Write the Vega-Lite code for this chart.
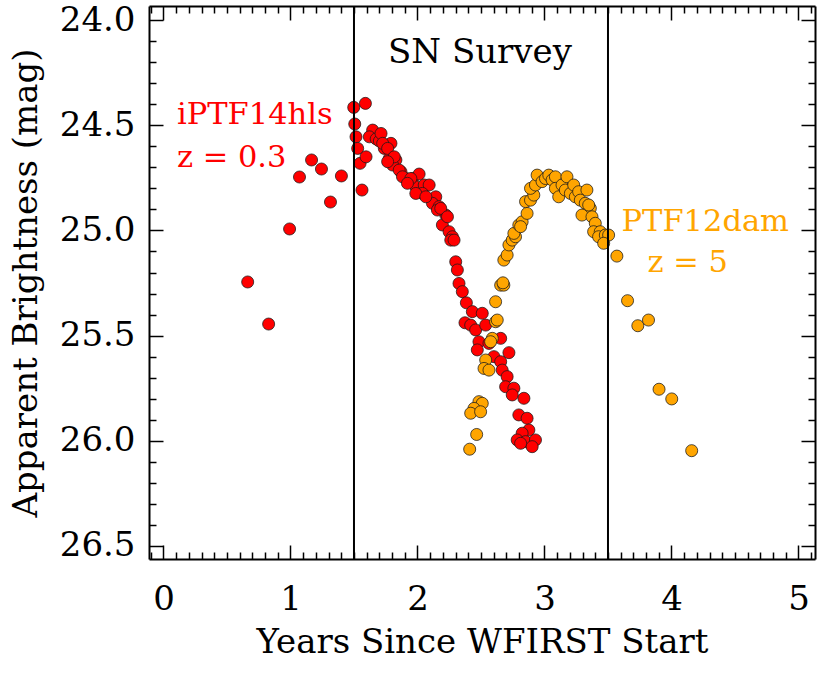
{
  "$schema": "https://vega.github.io/schema/vega-lite/v6.json",
  "width": 666,
  "height": 553,
  "autosize": {"type": "none"},
  "padding": {"left": 149, "top": 6, "right": 10, "bottom": 116},
  "background": "white",
  "datasets": {
    "iptf14hls": [
      {"t": 0.663, "mag": 25.245}, {"t": 0.828, "mag": 25.445}, {"t": 0.993, "mag": 24.993}, {"t": 1.071, "mag": 24.746},
      {"t": 1.166, "mag": 24.665}, {"t": 1.244, "mag": 24.708}, {"t": 1.315, "mag": 24.865}, {"t": 1.401, "mag": 24.741},
      {"t": 1.498, "mag": 24.415}, {"t": 1.590, "mag": 24.396}, {"t": 1.506, "mag": 24.494}, {"t": 1.516, "mag": 24.555},
      {"t": 1.529, "mag": 24.610}, {"t": 1.548, "mag": 24.681}, {"t": 1.563, "mag": 24.808}, {"t": 1.595, "mag": 24.650},
      {"t": 1.647, "mag": 24.523}, {"t": 1.621, "mag": 24.555}, {"t": 1.675, "mag": 24.565}, {"t": 1.700, "mag": 24.575},
      {"t": 1.713, "mag": 24.539}, {"t": 1.791, "mag": 24.586}, {"t": 1.739, "mag": 24.610}, {"t": 1.778, "mag": 24.658},
      {"t": 1.830, "mag": 24.665}, {"t": 1.804, "mag": 24.689}, {"t": 1.870, "mag": 24.721}, {"t": 1.909, "mag": 24.753},
      {"t": 1.961, "mag": 24.753}, {"t": 2.013, "mag": 24.732}, {"t": 1.987, "mag": 24.792}, {"t": 2.053, "mag": 24.784},
      {"t": 2.092, "mag": 24.784}, {"t": 2.039, "mag": 24.824}, {"t": 2.144, "mag": 24.840}, {"t": 2.118, "mag": 24.871},
      {"t": 2.170, "mag": 24.887}, {"t": 2.223, "mag": 24.927}, {"t": 2.196, "mag": 24.974}, {"t": 2.249, "mag": 25.006},
      {"t": 2.275, "mag": 25.030}, {"t": 2.262, "mag": 25.046}, {"t": 2.301, "mag": 25.149}, {"t": 2.314, "mag": 25.188},
      {"t": 1.726, "mag": 24.586}, {"t": 1.765, "mag": 24.610}, {"t": 1.817, "mag": 24.650}, {"t": 1.765, "mag": 24.673},
      {"t": 1.856, "mag": 24.713}, {"t": 1.882, "mag": 24.745}, {"t": 1.948, "mag": 24.753}, {"t": 1.921, "mag": 24.776},
      {"t": 1.987, "mag": 24.824}, {"t": 2.066, "mag": 24.840}, {"t": 2.157, "mag": 24.903}, {"t": 2.183, "mag": 24.895},
      {"t": 2.236, "mag": 24.935}, {"t": 2.288, "mag": 25.046},
      {"t": 2.327, "mag": 25.252}, {"t": 2.353, "mag": 25.291}, {"t": 2.385, "mag": 25.344}, {"t": 2.432, "mag": 25.386},
      {"t": 2.510, "mag": 25.394}, {"t": 2.374, "mag": 25.439}, {"t": 2.419, "mag": 25.450}, {"t": 2.458, "mag": 25.473},
      {"t": 2.537, "mag": 25.450}, {"t": 2.484, "mag": 25.529}, {"t": 2.471, "mag": 25.568}, {"t": 2.563, "mag": 25.537},
      {"t": 2.655, "mag": 25.513}, {"t": 2.602, "mag": 25.600}, {"t": 2.720, "mag": 25.581}, {"t": 2.655, "mag": 25.624},
      {"t": 2.667, "mag": 25.664}, {"t": 2.706, "mag": 25.695}, {"t": 2.694, "mag": 25.743}, {"t": 2.759, "mag": 25.750},
      {"t": 2.746, "mag": 25.782}, {"t": 2.838, "mag": 25.798}, {"t": 2.798, "mag": 25.877}, {"t": 2.863, "mag": 25.893},
      {"t": 2.877, "mag": 25.949}, {"t": 2.824, "mag": 25.964}, {"t": 2.785, "mag": 25.996}, {"t": 2.851, "mag": 26.004},
      {"t": 2.929, "mag": 25.996}, {"t": 2.903, "mag": 26.028}, {"t": 2.812, "mag": 26.012}
    ],
    "ptf12dam": [
      {"t": 2.655, "mag": 25.260}, {"t": 2.680, "mag": 25.260}, {"t": 2.615, "mag": 25.339}, {"t": 2.615, "mag": 25.434},
      {"t": 2.628, "mag": 25.426}, {"t": 2.589, "mag": 25.513}, {"t": 2.576, "mag": 25.529}, {"t": 2.537, "mag": 25.616},
      {"t": 2.524, "mag": 25.656}, {"t": 2.563, "mag": 25.664}, {"t": 2.484, "mag": 25.814}, {"t": 2.510, "mag": 25.822},
      {"t": 2.445, "mag": 25.846}, {"t": 2.419, "mag": 25.869}, {"t": 2.497, "mag": 25.862}, {"t": 2.466, "mag": 25.970},
      {"t": 2.411, "mag": 26.040},
      {"t": 2.673, "mag": 25.249}, {"t": 2.680, "mag": 25.141}, {"t": 2.706, "mag": 25.117}, {"t": 2.720, "mag": 25.069},
      {"t": 2.746, "mag": 25.046}, {"t": 2.772, "mag": 25.030}, {"t": 2.759, "mag": 25.014}, {"t": 2.798, "mag": 24.974},
      {"t": 2.824, "mag": 24.959}, {"t": 2.812, "mag": 24.982}, {"t": 2.863, "mag": 24.919}, {"t": 2.851, "mag": 24.863},
      {"t": 2.890, "mag": 24.856}, {"t": 2.916, "mag": 24.832}, {"t": 2.890, "mag": 24.800}, {"t": 2.929, "mag": 24.784},
      {"t": 2.942, "mag": 24.737}, {"t": 2.981, "mag": 24.768}, {"t": 3.008, "mag": 24.753}, {"t": 3.034, "mag": 24.737},
      {"t": 3.060, "mag": 24.760}, {"t": 3.086, "mag": 24.745}, {"t": 3.086, "mag": 24.800}, {"t": 3.112, "mag": 24.840},
      {"t": 3.138, "mag": 24.784}, {"t": 3.177, "mag": 24.745}, {"t": 3.164, "mag": 24.808}, {"t": 3.204, "mag": 24.824},
      {"t": 3.230, "mag": 24.784}, {"t": 3.243, "mag": 24.840}, {"t": 3.269, "mag": 24.816}, {"t": 3.334, "mag": 24.808},
      {"t": 3.282, "mag": 24.856}, {"t": 3.321, "mag": 24.871}, {"t": 3.361, "mag": 24.895}, {"t": 3.295, "mag": 24.927},
      {"t": 3.374, "mag": 24.935}, {"t": 3.400, "mag": 24.966}, {"t": 3.387, "mag": 25.006}, {"t": 3.439, "mag": 25.006},
      {"t": 3.426, "mag": 25.030}, {"t": 3.479, "mag": 25.022}, {"t": 3.505, "mag": 25.022}, {"t": 3.466, "mag": 25.061},
      {"t": 3.348, "mag": 24.879}, {"t": 3.570, "mag": 25.122}, {"t": 3.654, "mag": 25.334}, {"t": 3.735, "mag": 25.453},
      {"t": 3.819, "mag": 25.426}, {"t": 3.902, "mag": 25.755}, {"t": 4.002, "mag": 25.801}, {"t": 4.159, "mag": 26.047}
    ],
    "survey": [{"t": 1.5}, {"t": 3.5}],
    "survey_label": [{"t": 2.492, "mag": 24.204, "label": "SN Survey"}],
    "iptf_label": [
      {"t": 0.106, "mag": 24.494, "label": "iPTF14hls"},
      {"t": 0.106, "mag": 24.699, "label": "z = 0.3"}
    ],
    "ptf_label": [
      {"t": 3.607, "mag": 25.003, "label": "PTF12dam"},
      {"t": 3.811, "mag": 25.198, "label": "z = 5"}
    ]
  },
  "resolve": {"axis": {"x": "independent", "y": "independent"}},
  "layer": [
    {
      "data": {"name": "iptf14hls"},
      "mark": {"type": "point", "shape": "circle", "filled": true, "size": 145, "fill": "#ff0000", "stroke": "#1a1a1a", "strokeWidth": 0.9, "opacity": 1, "strokeOpacity": 0.85},
      "encoding": {
        "x": {"field": "t", "type": "quantitative",
              "scale": {"domain": [-0.114, 5.13], "nice": false, "zero": false},
              "axis": {"orient": "bottom", "values": [0, 1, 2, 3, 4, 5], "tickSize": -14, "labelPadding": 37, "format": "d",
                       "title": "Years Since WFIRST Start", "titlePadding": 9}},
        "y": {"field": "mag", "type": "quantitative",
              "scale": {"domain": [23.933, 26.562], "nice": false, "zero": false, "reverse": true},
              "axis": {"orient": "left", "values": [24.0, 24.5, 25.0, 25.5, 26.0, 26.5], "tickSize": -14, "labelPadding": 28, "format": ".1f",
                       "title": "Apparent Brightness (mag)", "titlePadding": 16}}
      }
    },
    {
      "data": {"name": "ptf12dam"},
      "mark": {"type": "point", "shape": "circle", "filled": true, "size": 145, "fill": "#ffa500", "stroke": "#1a1a1a", "strokeWidth": 0.9, "opacity": 1, "strokeOpacity": 0.85},
      "encoding": {
        "x": {"field": "t", "type": "quantitative",
              "axis": {"orient": "bottom", "values": [-0.1, 0.1, 0.2, 0.3, 0.4, 0.5, 0.6, 0.7, 0.8, 0.9, 1.1, 1.2, 1.3, 1.4, 1.5, 1.6, 1.7, 1.8, 1.9, 2.1, 2.2, 2.3, 2.4, 2.5, 2.6, 2.7, 2.8, 2.9, 3.1, 3.2, 3.3, 3.4, 3.5, 3.6, 3.7, 3.8, 3.9, 4.1, 4.2, 4.3, 4.4, 4.5, 4.6, 4.7, 4.8, 4.9, 5.1],
                       "tickSize": -7, "labels": false, "domain": false, "title": null}},
        "y": {"field": "mag", "type": "quantitative",
              "axis": {"orient": "left", "values": [24.1, 24.2, 24.3, 24.4, 24.6, 24.7, 24.8, 24.9, 25.1, 25.2, 25.3, 25.4, 25.6, 25.7, 25.8, 25.9, 26.1, 26.2, 26.3, 26.4],
                       "tickSize": -7, "labels": false, "domain": false, "title": null}}
      }
    },
    {
      "data": {"name": "survey"},
      "mark": {"type": "rule", "color": "black", "strokeWidth": 2},
      "encoding": {
        "x": {"field": "t", "type": "quantitative",
              "axis": {"orient": "top", "values": [0, 1, 2, 3, 4, 5], "tickSize": -14, "labels": false, "title": null}}
      }
    },
    {
      "data": {"name": "survey_label"},
      "mark": {"type": "text", "font": "DejaVu Serif", "fontSize": 34, "color": "black", "align": "center", "baseline": "alphabetic"},
      "encoding": {
        "x": {"field": "t", "type": "quantitative",
              "axis": {"orient": "top", "values": [-0.1, 0.1, 0.2, 0.3, 0.4, 0.5, 0.6, 0.7, 0.8, 0.9, 1.1, 1.2, 1.3, 1.4, 1.5, 1.6, 1.7, 1.8, 1.9, 2.1, 2.2, 2.3, 2.4, 2.5, 2.6, 2.7, 2.8, 2.9, 3.1, 3.2, 3.3, 3.4, 3.5, 3.6, 3.7, 3.8, 3.9, 4.1, 4.2, 4.3, 4.4, 4.5, 4.6, 4.7, 4.8, 4.9, 5.1],
                       "tickSize": -7, "labels": false, "domain": false, "title": null}},
        "y": {"field": "mag", "type": "quantitative",
              "axis": {"orient": "right", "values": [24.0, 24.5, 25.0, 25.5, 26.0, 26.5], "tickSize": -14, "labels": false, "title": null}},
        "text": {"field": "label"}
      }
    },
    {
      "data": {"name": "iptf_label"},
      "mark": {"type": "text", "font": "DejaVu Serif", "fontSize": 30.5, "color": "#ff0000", "align": "left", "baseline": "alphabetic"},
      "encoding": {
        "x": {"field": "t", "type": "quantitative", "axis": null},
        "y": {"field": "mag", "type": "quantitative",
              "axis": {"orient": "right", "values": [24.1, 24.2, 24.3, 24.4, 24.6, 24.7, 24.8, 24.9, 25.1, 25.2, 25.3, 25.4, 25.6, 25.7, 25.8, 25.9, 26.1, 26.2, 26.3, 26.4],
                       "tickSize": -7, "labels": false, "domain": false, "title": null}},
        "text": {"field": "label"}
      }
    },
    {
      "data": {"name": "ptf_label"},
      "mark": {"type": "text", "font": "DejaVu Serif", "fontSize": 30.5, "color": "#ffa500", "align": "left", "baseline": "alphabetic"},
      "encoding": {
        "x": {"field": "t", "type": "quantitative", "axis": null},
        "y": {"field": "mag", "type": "quantitative", "axis": null},
        "text": {"field": "label"}
      }
    }
  ],
  "config": {
    "view": {"stroke": null},
    "axis": {
      "grid": false,
      "labelFont": "DejaVu Serif",
      "labelFontSize": 34,
      "labelColor": "black",
      "labelFlush": false,
      "labelOverlap": false,
      "titleFont": "DejaVu Serif",
      "titleFontSize": 34,
      "titleFontWeight": "normal",
      "titleColor": "black",
      "domainColor": "black",
      "domainWidth": 2,
      "tickColor": "black",
      "tickWidth": 1.5
    }
  }
}
